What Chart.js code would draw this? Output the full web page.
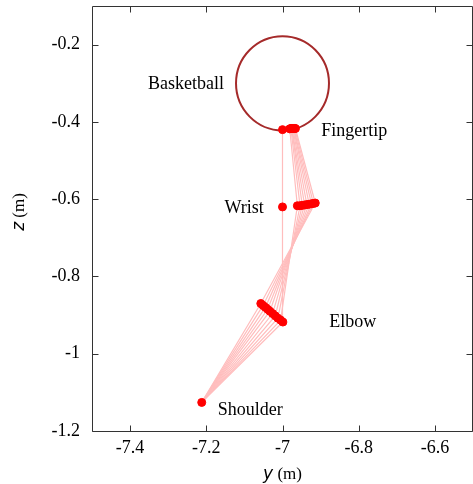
<!DOCTYPE html>
<html>
<head>
<meta charset="utf-8">
<script src="https://cdn.jsdelivr.net/npm/chart.js@4/dist/chart.umd.min.js"></script>
<style>
  html, body { margin: 0; padding: 0; background: #fff; }
  #wrap { width: 473px; height: 484px; }
</style>
</head>
<body>
<div id="wrap"><canvas id="c" width="473" height="484"></canvas></div>
<script>
// arm frames (y and z in metres)
const elbowY     = [-7.057, -7.051, -7.045, -7.039, -7.033, -7.026, -7.019, -7.012, -7.005, -6.999];
const elbowZ     = [-0.870, -0.875, -0.880, -0.885, -0.890, -0.896, -0.902, -0.908, -0.913, -0.918];
const wristY     = [-6.914, -6.919, -6.924, -6.930, -6.936, -6.942, -6.948, -6.954, -6.961, -7.000];
const wristZ     = [-0.610, -0.611, -0.612, -0.613, -0.614, -0.615, -0.616, -0.617, -0.617, -0.620];
const fingerY    = [-6.966, -6.968, -6.970, -6.971, -6.973, -6.975, -6.976, -6.978, -6.981, -7.000];
const fingerZ    = [-0.417, -0.417, -0.417, -0.417, -0.417, -0.417, -0.417, -0.417, -0.418, -0.420];
const shoulderYZ = [-7.212, -1.126];

// basketball
const ballCenter = [-7.0, -0.30];
const ballRadius = 0.122;

// ticks
const xTicks = [-7.4, -7.2, -7.0, -6.8, -6.6];
const yTicks = [-1.2, -1.0, -0.8, -0.6, -0.4, -0.2];

// text labels (data coords of the left edge)
const labelText = ['Basketball', 'Fingertip', 'Wrist', 'Elbow', 'Shoulder'];
const labelY    = [-7.353, -6.898, -7.152, -6.877, -7.170];
const labelZ    = [-0.303, -0.425, -0.624, -0.919, -1.147];

const serif = '"Liberation Serif", "Times New Roman", serif';

const armSets = elbowY.map((_, i) => ({
  type: 'scatter',
  showLine: true,
  data: [
    {x: shoulderYZ[0], y: shoulderYZ[1]},
    {x: elbowY[i], y: elbowZ[i]},
    {x: wristY[i], y: wristZ[i]},
    {x: fingerY[i], y: fingerZ[i]}
  ],
  borderColor: '#ffbdbd',
  borderWidth: 1.2,
  pointRadius: 0,
  order: 2
}));

const jointPts = [{x: shoulderYZ[0], y: shoulderYZ[1]}];
elbowY.forEach((_, i) => {
  jointPts.push({x: elbowY[i], y: elbowZ[i]});
  jointPts.push({x: wristY[i], y: wristZ[i]});
  jointPts.push({x: fingerY[i], y: fingerZ[i]});
});

const boxPlugin = {
  id: 'box',
  beforeDatasetsDraw(chart) {
    const {ctx} = chart;
    const xs = chart.scales.x, ys = chart.scales.y;
    const cx = xs.getPixelForValue(ballCenter[0]);
    const cy = ys.getPixelForValue(ballCenter[1]);
    const rx = Math.abs(xs.getPixelForValue(ballCenter[0] + ballRadius) - cx);
    const ry = Math.abs(ys.getPixelForValue(ballCenter[1] + ballRadius) - cy);
    ctx.save();
    ctx.strokeStyle = '#a52a2a';
    ctx.lineWidth = 2;
    ctx.beginPath();
    ctx.ellipse(cx, cy, rx, ry, 0, 0, Math.PI * 2);
    ctx.stroke();
    ctx.restore();
  },
  afterDatasetsDraw(chart) {
    const {ctx, chartArea: a} = chart;
    const xs = chart.scales.x, ys = chart.scales.y;
    const L = Math.round(a.left) + 0.5, R = Math.round(a.right) - 0.5;
    const T = Math.round(a.top) + 0.5, B = Math.round(a.bottom) + 0.5;
    ctx.save();
    ctx.strokeStyle = '#333';
    ctx.lineWidth = 1;
    ctx.beginPath();
    ctx.rect(L, T, R - L, B - T);
    const tl = 6;
    xTicks.forEach(v => {
      const p = Math.round(xs.getPixelForValue(v)) + 0.5;
      ctx.moveTo(p, B); ctx.lineTo(p, B - tl);
      ctx.moveTo(p, T); ctx.lineTo(p, T + tl);
    });
    yTicks.forEach(v => {
      const p = Math.round(ys.getPixelForValue(v)) + 0.5;
      ctx.moveTo(L, p); ctx.lineTo(L + tl, p);
      ctx.moveTo(R, p); ctx.lineTo(R - tl, p);
    });
    ctx.stroke();

    // point labels
    ctx.fillStyle = '#000';
    ctx.font = '18px ' + serif;
    ctx.textAlign = 'left';
    ctx.textBaseline = 'middle';
    labelText.forEach((t, i) => {
      ctx.fillText(t, xs.getPixelForValue(labelY[i]), ys.getPixelForValue(labelZ[i]));
    });

    // axis titles: italic variable + serif unit
    const drawTitle = (v, x, y) => {
      ctx.font = 'italic 17px "DejaVu Sans", sans-serif';
      const w1 = ctx.measureText(v).width;
      ctx.font = '17px ' + serif;
      const w2 = ctx.measureText(' (m)').width;
      let s = x - (w1 + w2) / 2;
      ctx.textAlign = 'left';
      ctx.font = 'italic 17px "DejaVu Sans", sans-serif';
      ctx.fillText(v, s, y);
      ctx.font = '17px ' + serif;
      ctx.fillText(' (m)', s + w1, y);
    };
    ctx.textBaseline = 'middle';
    drawTitle('y', xs.getPixelForValue(-7.0), 475);
    ctx.translate(20, 212);
    ctx.rotate(-Math.PI / 2);
    drawTitle('z', 0, 0);
    ctx.restore();
  }
};

const fmt = v => String(Number(v.toFixed(1)));
const noPad = s => { s.paddingTop = 0; s.paddingBottom = 0; s.paddingLeft = 0; s.paddingRight = 0; };

new Chart(document.getElementById('c'), {
  type: 'scatter',
  data: {
    datasets: [
      {
        data: jointPts,
        backgroundColor: '#ff0000',
        borderColor: '#ff0000',
        pointRadius: 4,
        pointHoverRadius: 4,
        order: 0
      },
      ...armSets
    ]
  },
  options: {
    responsive: false,
    devicePixelRatio: 1,
    animation: false,
    events: [],
    layout: { autoPadding: false, padding: { top: 6, left: 0, right: -2, bottom: 0 } },
    plugins: { legend: { display: false }, tooltip: { enabled: false } },
    scales: {
      x: {
        type: 'linear',
        min: -7.5, max: -6.5,
        grid: { display: false, drawTicks: false },
        border: { display: false },
        afterBuildTicks: s => { s.ticks = xTicks.map(v => ({value: v})); },
        afterFit: s => { s.height = 53; noPad(s); },
        ticks: { color: '#000', font: { family: serif, size: 18 }, padding: 6, maxRotation: 0, callback: fmt }
      },
      y: {
        type: 'linear',
        min: -1.2, max: -0.1,
        grid: { display: false, drawTicks: false },
        border: { display: false },
        afterBuildTicks: s => { s.ticks = yTicks.map(v => ({value: v})); },
        afterFit: s => { s.width = 92; noPad(s); },
        ticks: { color: '#000', font: { family: serif, size: 18 }, padding: 12, callback: fmt }
      }
    }
  },
  plugins: [boxPlugin]
});
</script>
</body>
</html>
